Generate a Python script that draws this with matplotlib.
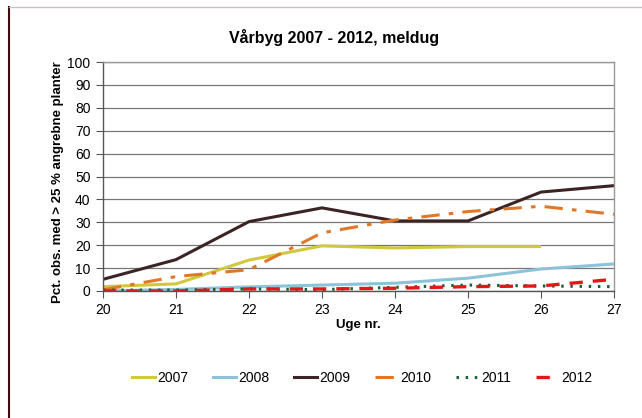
#!/usr/bin/env python3
"""Vårbyg 2007 - 2012, meldug: line chart per year."""
import matplotlib
matplotlib.use('Agg')
import matplotlib.pyplot as plt
from matplotlib.lines import Line2D

plt.rcParams['font.family'] = ['Liberation Sans', 'DejaVu Sans']

weeks = [20, 21, 22, 23, 24, 25, 26, 27]
y2007 = [1.9, 3.1, 13.5, 19.7, 18.8, 19.4, 19.4]
y2008 = [0.0, 0.7, 1.8, 2.6, 3.4, 5.6, 9.6, 11.8]
y2009 = [5.1, 13.7, 30.3, 36.3, 30.6, 30.6, 43.2, 46.0]
y2010 = [0.5, 6.3, 9.3, 25.4, 31.0, 34.7, 37.0, 33.5]
y2011 = [0.4, 0.4, 0.9, 0.6, 1.6, 2.6, 2.2, 1.9]
y2012 = [0.0, 0.0, 0.9, 0.9, 1.2, 1.9, 2.2, 5.1]

labels = ['2007', '2008', '2009', '2010', '2011', '2012']
yticks = list(range(0, 101, 10))

fig = plt.figure(figsize=(6.42, 4.18), dpi=100)
ax = fig.add_axes([103 / 642, 1 - 291 / 418, 511 / 642, 229 / 418])

styles = [
    (y2007, dict(color='#d2c83c', lw=2.2, ls='-')),
    (y2008, dict(color='#8cc2da', lw=2.2, ls='-')),
    (y2009, dict(color='#3c2424', lw=2.2, ls='-')),
    (y2010, dict(color='#e0782a', lw=2.2, ls=(0, (6, 3, 1.5, 3)))),
    (y2011, dict(color='#1a6030', lw=2.2, ls=(0, (0.8, 2.2)))),
    (y2012, dict(color='#e01818', lw=2.4, ls=(0, (4, 3)))),
]
handles = []
for (vals, st), lab in zip(styles, labels):
    ax.plot(weeks[:len(vals)], vals, solid_capstyle='butt', dash_capstyle='butt', **st)
    handles.append(Line2D([], [], **st))

ax.set_xlim(20, 27)
ax.set_ylim(0, 100)
ax.set_xticks(weeks)
ax.set_yticks(yticks)
ax.tick_params(axis='both', labelsize=10, length=5, width=0.8, color='#555555', pad=4)
ax.grid(axis='y', color='#777777', lw=0.9)
ax.set_axisbelow(True)
for side in ['top', 'right']:
    ax.spines[side].set_color('#999999')
for side in ['left', 'bottom']:
    ax.spines[side].set_color('#555555')
for sp in ax.spines.values():
    sp.set_linewidth(1.0)

fig.text(334 / 642, 1 - 38 / 418, 'Vårbyg 2007 - 2012, meldug', ha='center', va='center',
         fontsize=11.5, fontweight='bold')
fig.text(58 / 642, 1 - 182 / 418, 'Pct. obs. med > 25 % angrebne planter', rotation=90,
         ha='center', va='center', fontsize=9.5, fontweight='bold')
fig.text(358 / 642, 1 - 325 / 418, 'Uge nr.', ha='center', va='center',
         fontsize=9.5, fontweight='bold')

fig.legend(handles, labels, loc='center', bbox_to_anchor=(362 / 642, 1 - 378 / 418),
           ncol=6, frameon=False, fontsize=10, handlelength=1.7, handletextpad=0.15,
           columnspacing=1.75)

# outer frame lines
fig.add_artist(Line2D([9 / 642, 9 / 642], [0, 1 - 7 / 418], color='#3a0c0c', lw=1.5,
                      transform=fig.transFigure))
fig.add_artist(Line2D([9 / 642, 1], [1 - 7 / 418, 1 - 7 / 418], color='#c8c0c0', lw=1.0,
                      transform=fig.transFigure))

fig.savefig('out.png', dpi=100)
